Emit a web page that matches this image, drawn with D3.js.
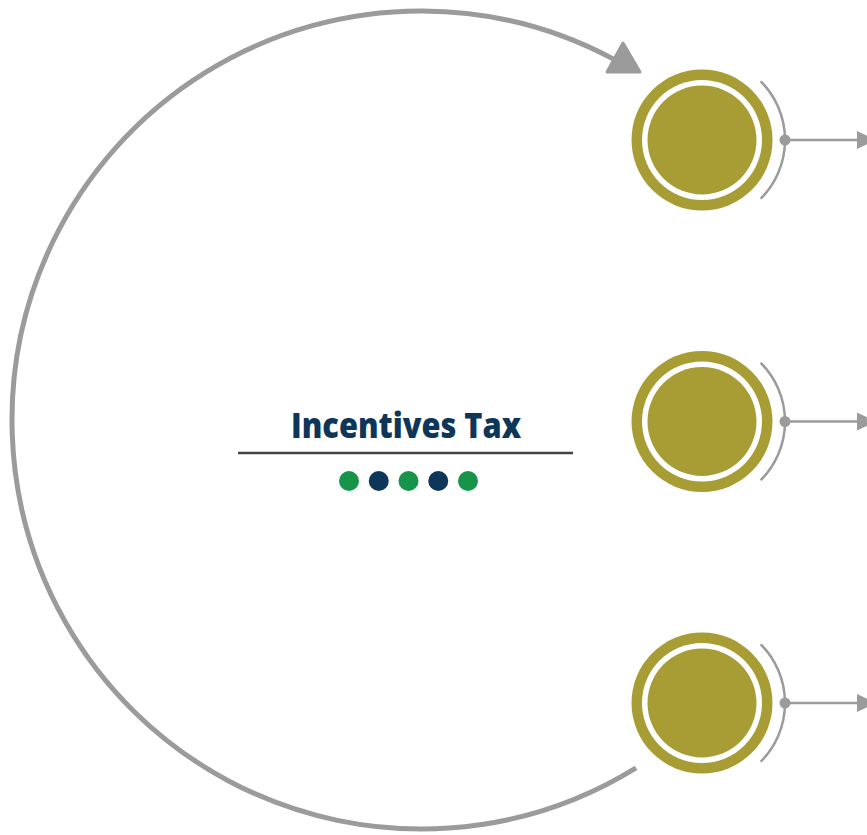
<!DOCTYPE html>
<html>
<head>
<meta charset="utf-8">
<script src="https://cdn.jsdelivr.net/npm/d3@7"></script>
<style>
  body { margin: 0; background: #fff; }
  svg { display: block; }
</style>
</head>
<body>
<div id="chart"></div>
<script>
var svgWidth = 867
var svgHeight = 835

// data
var title = "Incentives Tax"
var steps = ["Step 1", "Step 2", "Step 3"]
var dotColors = ["#16944a", "#0e3658", "#16944a", "#0e3658", "#16944a"]

var olive = "#a89d35"
var gray = "#9b9b9b"
var navy = "#0e3658"

var svg = d3.select("#chart")
    .append("svg")
    .attr("width", svgWidth)
    .attr("height", svgHeight)

var yStep = d3.scalePoint()
    .domain(steps)
    .range([140, 703])

var stepX = 702

// big loop arc
var cx = 421, cy = 420, R = 409
var loop = d3.path()
// d3.path angles: 0 = 3 o'clock, clockwise
var a0 = Math.atan2(351, 217)
var a1 = Math.atan2(-361, 192) + 2 * Math.PI
loop.arc(cx, cy, R, a0, a1, false)

svg.append("path")
    .attr("d", loop.toString())
    .attr("fill", "none")
    .attr("stroke", gray)
    .attr("stroke-width", 5)

// arrow head at end of loop
svg.append("path")
    .attr("d", "M623,43 L607,72 L640,72 Z")
    .attr("fill", gray)
    .attr("stroke", gray)
    .attr("stroke-width", 3)
    .attr("stroke-linejoin", "round")

// steps
var bracket = d3.arc()
    .innerRadius(83)
    .outerRadius(83)
    .startAngle(Math.PI / 4)
    .endAngle(3 * Math.PI / 4)

var g = svg.selectAll("g.step")
    .data(steps)
    .enter()
    .append("g")
    .attr("class", "step")
    .attr("transform", d => `translate(${stepX}, ${yStep(d)})`)

g.append("circle").attr("r", 70.5).attr("fill", olive)
g.append("circle").attr("r", 60).attr("fill", "#fff")
g.append("circle").attr("r", 54.5).attr("fill", olive)

g.append("path")
    .attr("d", bracket())
    .attr("fill", "none")
    .attr("stroke", gray)
    .attr("stroke-width", 2.5)

g.append("line")
    .attr("x1", 83).attr("x2", 156)
    .attr("y1", 0).attr("y2", 0)
    .attr("stroke", gray)
    .attr("stroke-width", 2.5)

g.append("circle")
    .attr("cx", 83)
    .attr("r", 5.5)
    .attr("fill", gray)

g.append("path")
    .attr("d", "M155,-9 L174,0 L155,9 Z")
    .attr("fill", gray)

// center title
svg.append("text")
    .attr("x", 406)
    .attr("y", 438)
    .attr("text-anchor", "middle")
    .attr("font-family", "'Open Sans', Lato, sans-serif")
    .attr("font-weight", 800)
    .attr("font-size", 36)
    .attr("textLength", 230)
    .attr("lengthAdjust", "spacingAndGlyphs")
    .attr("fill", navy)
    .text(title)

svg.append("line")
    .attr("x1", 238).attr("x2", 573)
    .attr("y1", 453).attr("y2", 453)
    .attr("stroke", "#444")
    .attr("stroke-width", 2.5)

var xDot = d3.scalePoint()
    .domain(d3.range(dotColors.length))
    .range([349, 468])

svg.selectAll("circle.dot")
    .data(dotColors)
    .enter()
    .append("circle")
    .attr("class", "dot")
    .attr("cx", (d, i) => xDot(i))
    .attr("cy", 481)
    .attr("r", 10)
    .attr("fill", d => d)
</script>
</body>
</html>
